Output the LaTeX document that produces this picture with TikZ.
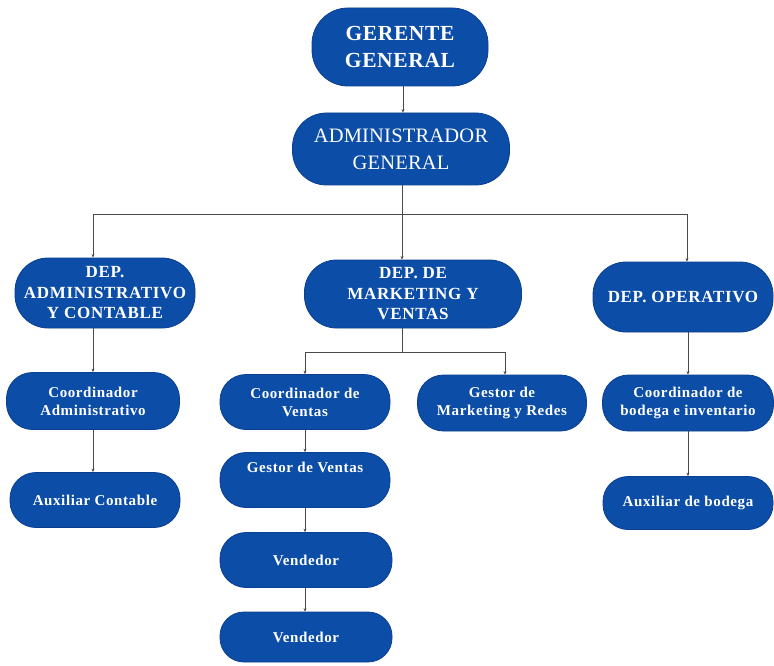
\documentclass[tikz,border=0pt]{standalone}
\usepackage{fontspec}
\setmainfont{Liberation Serif}[BoldFont={Liberation Serif Bold},ItalicFont={Liberation Serif Italic}]
\usetikzlibrary{arrows.meta}
\definecolor{boxblue}{HTML}{0C4DA7}
\definecolor{edgeblue}{HTML}{0A3F90}
\definecolor{linegray}{HTML}{4A4A4A}
\begin{document}
\begin{tikzpicture}[x=1pt,y=-1pt,
  orgbox/.style={fill=boxblue, draw=edgeblue, line width=0.8pt, text=white, align=center, inner sep=0pt},
  topfont/.style={font=\bfseries\fontsize{21.5}{27}\selectfont\addfontfeature{LetterSpace=3}},
  adminfont/.style={font=\fontsize{20.5}{27}\selectfont\addfontfeature{LetterSpace=1}},
  depfont/.style={font=\bfseries\fontsize{17}{20.5}\selectfont\addfontfeature{LetterSpace=4}},
  smallfont/.style={font=\bfseries\fontsize{15}{18}\selectfont\addfontfeature{LetterSpace=4}},
  conn/.style={draw=linegray, line width=0.8pt, -{Stealth[length=3.5pt,width=3pt]}},
  plainline/.style={draw=linegray, line width=0.8pt}
]
\fill[white] (0,0) rectangle (774,666);
\useasboundingbox (0,0) rectangle (774,666);

% top
\node[orgbox, topfont, minimum width=176pt, minimum height=78pt, rounded corners=36pt] (gg) at (400,47) {GERENTE\\GENERAL};
\node[orgbox, adminfont, minimum width=217pt, minimum height=72pt, rounded corners=34pt] (ag) at (401,149) {ADMINISTRADOR\\GENERAL};

% departments
\node[orgbox, depfont, minimum width=180pt, minimum height=70pt, rounded corners=33pt] (da) at (105,293) {DEP.\\ADMINISTRATIVO\\Y CONTABLE};
\node[orgbox, depfont, minimum width=217pt, minimum height=68pt, rounded corners=32pt] (dm) at (413,294) {DEP. DE\\MARKETING Y\\VENTAS};
\node[orgbox, depfont, minimum width=180pt, minimum height=70pt, rounded corners=33pt] (do) at (683,297) {DEP. OPERATIVO};

% left column
\node[orgbox, smallfont, minimum width=173pt, minimum height=57pt, rounded corners=26pt] (ca) at (93,401) {Coordinador\\Administrativo};
\node[orgbox, smallfont, minimum width=170pt, minimum height=55pt, rounded corners=26pt] (ac) at (95,500) {Auxiliar Contable};

% middle column
\node[orgbox, smallfont, minimum width=170pt, minimum height=55pt, rounded corners=26pt] (cv) at (305,402) {Coordinador de\\Ventas};
\node[orgbox, smallfont, minimum width=170pt, minimum height=55pt, rounded corners=26pt] (gv) at (305,480) {Gestor de Ventas\\[8pt]\mbox{}};
\node[orgbox, smallfont, minimum width=172pt, minimum height=55pt, rounded corners=26pt] (v1) at (306,560) {Vendedor};
\node[orgbox, smallfont, minimum width=172pt, minimum height=50pt, rounded corners=24pt] (v2) at (306,637) {Vendedor};
\node[orgbox, smallfont, minimum width=169pt, minimum height=56pt, rounded corners=26pt] (gm) at (502,403) {Gestor de\\Marketing y Redes};

% right column
\node[orgbox, smallfont, minimum width=171pt, minimum height=56pt, rounded corners=26pt] (cb) at (688,403) {Coordinador de\\bodega e inventario};
\node[orgbox, smallfont, minimum width=170pt, minimum height=53pt, rounded corners=25pt] (ab) at (688,503) {Auxiliar de bodega};

% bus coordinates
\coordinate (busL) at (93,214);
\coordinate (busM) at (402,214);
\coordinate (busR) at (687,214);
\coordinate (mbus) at (402,352);
\coordinate (mbusL) at (305,352);
\coordinate (mbusR) at (505,352);
\coordinate (gx) at (403,0);

% connectors
\draw[conn] (gg.south -| gx) -- (ag.north -| gx);
\draw[conn] (ag.south -| busM) -- (dm.north -| busM);
\draw[plainline] (busL) -- (busR);
\draw[conn] (busL) -- (da.north -| busL);
\draw[conn] (busR) -- (do.north -| busR);

\draw[conn] (da.south -| busL) -- (ca.north -| busL);
\draw[conn] (ca.south -| busL) -- (ac.north -| busL);

\draw[plainline] (dm.south -| mbus) -- (mbus);
\draw[plainline] (mbusL) -- (mbusR);
\draw[conn] (mbusL) -- (cv.north -| mbusL);
\draw[conn] (mbusR) -- (gm.north -| mbusR);
\draw[conn] (cv.south -| mbusL) -- (gv.north -| mbusL);
\draw[conn] (gv.south -| mbusL) -- (v1.north -| mbusL);
\draw[conn] (v1.south -| mbusL) -- (v2.north -| mbusL);

\draw[conn] (do.south -| cb) -- (cb.north);
\draw[conn] (cb.south) -- (ab.north);
\end{tikzpicture}
\end{document}
